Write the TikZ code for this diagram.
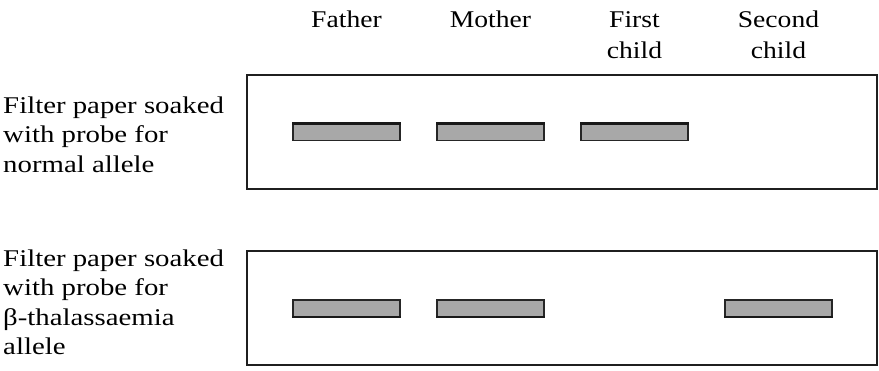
\documentclass[tikz,border=0pt]{standalone}
\usepackage{fontspec}
\setmainfont{Liberation Serif}
\begin{document}
\begin{tikzpicture}[x=1pt,y=-1pt,
  lbl/.style={inner sep=0pt,anchor=base west,transform shape,xscale=1.2,font=\rmfamily\fontsize{24}{29}\selectfont},
  hdr/.style={inner sep=0pt,anchor=base,transform shape,xscale=1.15,font=\rmfamily\fontsize{24}{29}\selectfont},
  paper/.style={draw=black!88,line width=2.8pt,fill=white},
  band/.style={draw=black!85,line width=1.6pt,fill=black!34,minimum width=107pt,minimum height=17pt,inner sep=0pt}]
\useasboundingbox (0,0) rectangle (879,370);
% headers
\node[hdr] (fa) at (346.5,27) {Father};
\node[hdr] (mo) at (490.5,27) {Mother};
\node[hdr] (fc1) at (634.5,27) {First};
\node[hdr] (fc2) at (634.5,58) {child};
\node[hdr] (sc1) at (778.5,27) {Second};
\node[hdr] (sc2) at (778.5,58) {child};
% papers
\node[paper,inner sep=0pt,minimum width=630pt,minimum height=114pt] (p1) at (562,132) {};
\node[paper,inner sep=0pt,minimum width=630pt,minimum height=114pt] (p2) at (562,308) {};
% left labels
\node[lbl] (a1) at (3,113) {Filter paper soaked};
\node[lbl] (a2) at (3,142.5) {with probe for};
\node[lbl] (a3) at (3,172) {normal allele};
\node[lbl] (b1) at (3,266) {Filter paper soaked};
\node[lbl] (b2) at (3,295.5) {with probe for};
\node[lbl] (b3) at (3,325) {β-thalassaemia};
\node[lbl] (b4) at (3,354.5) {allele};
% bands paper 1
\node[band] (n1) at (346.5,132) {};
\node[band] (n2) at (490.5,132) {};
\node[band] (n3) at (634.5,132) {};
\foreach \n in {n1,n2,n3}
  \draw[line width=2.4pt,black!90] ([yshift=-0.6pt]\n.north west) -- ([yshift=-0.6pt]\n.north east);
% bands paper 2
\node[band] (t1) at (346.5,308.5) {};
\node[band] (t2) at (490.5,308.5) {};
\node[band] (t4) at (778.5,308.5) {};
\foreach \n in {t1,t2,t4}
  \draw[line width=2.4pt,black!90] ([yshift=0.6pt]\n.south west) -- ([yshift=0.6pt]\n.south east);
\end{tikzpicture}
\end{document}
